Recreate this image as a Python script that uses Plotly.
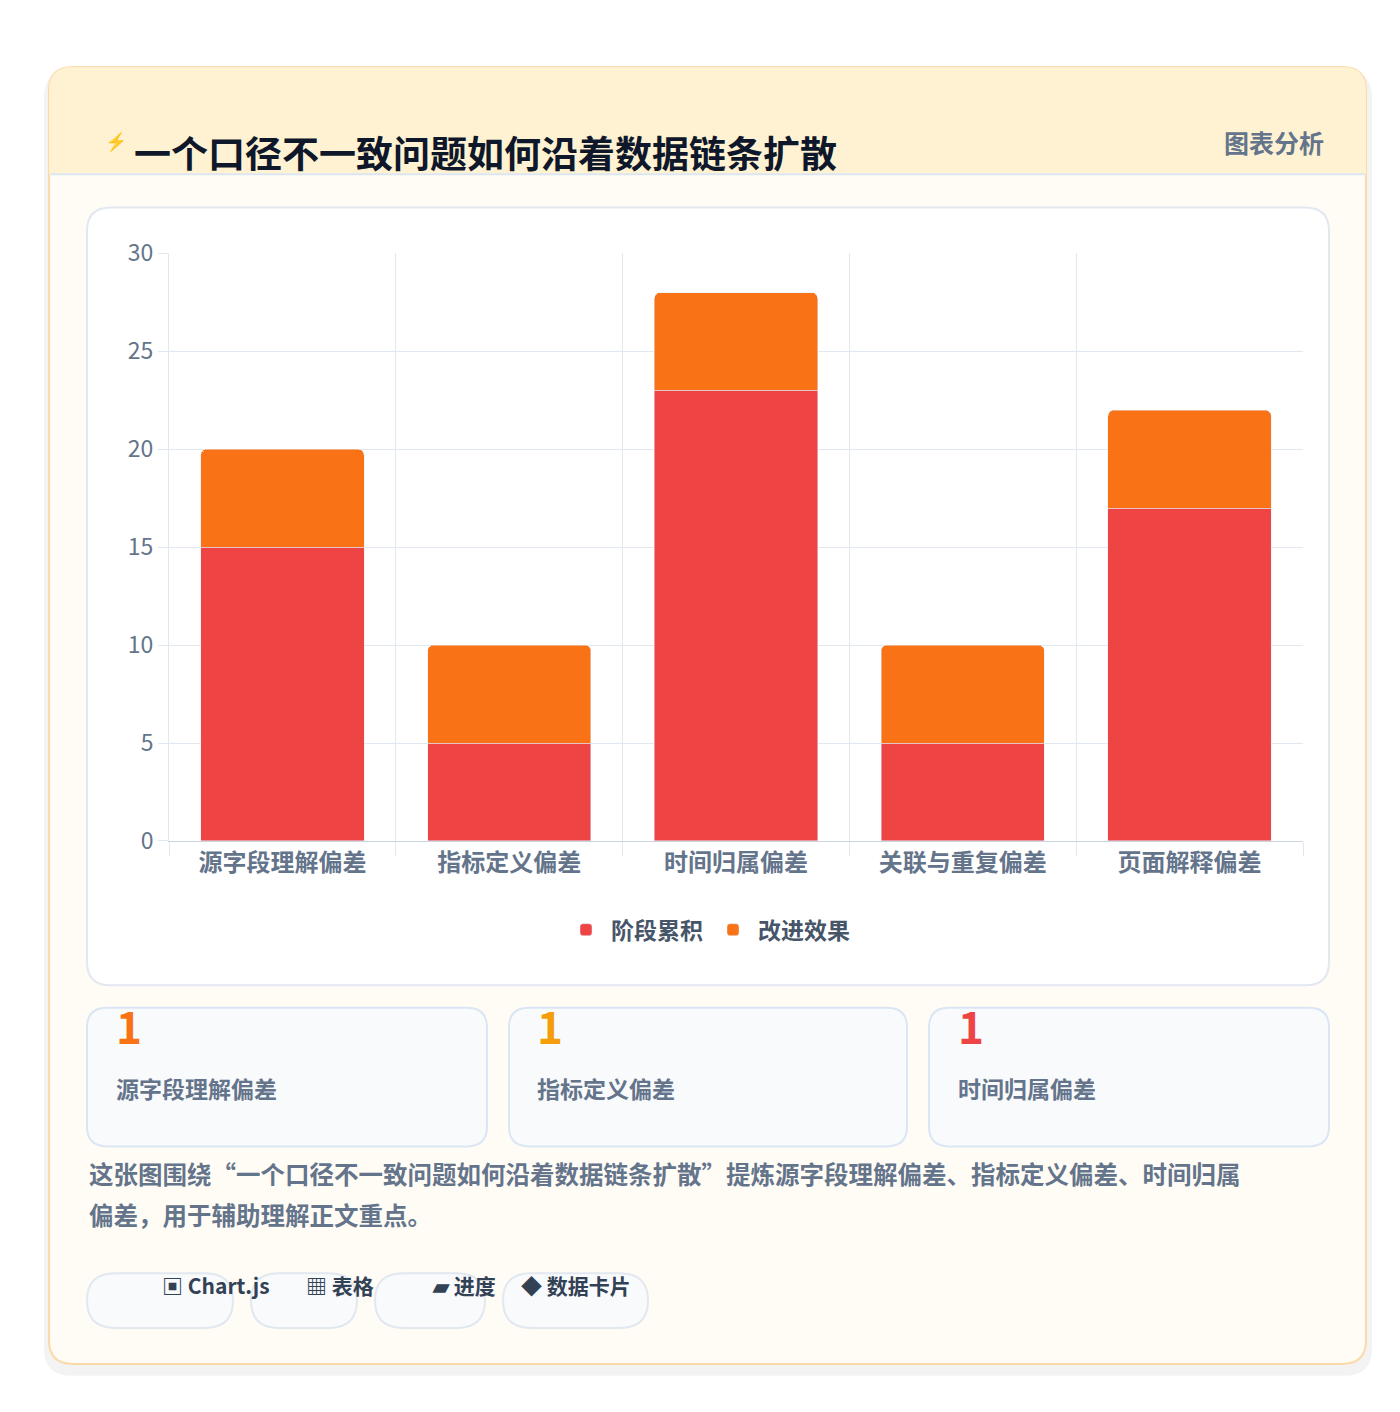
import plotly.graph_objects as go

categories = ["源字段理解偏差", "指标定义偏差", "时间归属偏差", "关联与重复偏差", "页面解释偏差"]
stage_values = [15, 5, 23, 5, 17]
improve_values = [5, 5, 5, 5, 5]
series_names = ["阶段累积", "改进效果"]
card_values = ["1", "1", "1"]
card_labels = ["源字段理解偏差", "指标定义偏差", "时间归属偏差"]
chips = ["▣ Chart.js", "▦ 表格", "▰ 进度", "◆ 数据卡片"]

W, H = 1400, 1412
FONT = "Noto Sans CJK SC, Noto Sans, sans-serif"

def px(x): return x / W
def py(y): return 1 - y / H

def rrect(x0, y0, x1, y1, r, fill, line=None, lw=1.5):
    X0, X1 = px(x0), px(x1)
    Y0, Y1 = py(y0), py(y1)
    rx, ry = r / W, r / H
    p = (f"M{X0+rx},{Y0} L{X1-rx},{Y0} Q{X1},{Y0} {X1},{Y0-ry} "
         f"L{X1},{Y1+ry} Q{X1},{Y1} {X1-rx},{Y1} L{X0+rx},{Y1} "
         f"Q{X0},{Y1} {X0},{Y1+ry} L{X0},{Y0-ry} Q{X0},{Y0} {X0+rx},{Y0} Z")
    return dict(type="path", path=p, xref="paper", yref="paper", fillcolor=fill,
                line=dict(color=line or fill, width=lw if line else 0), layer="below")

fig = go.Figure()
fig.add_bar(x=categories, y=stage_values, name=series_names[0], marker_color="#ef4444")
fig.add_bar(x=categories, y=improve_values, name=series_names[1], marker_color="#f97316")

shapes = []
# shadow-ish
shapes.append(rrect(36, 44, 1364, 1382, 28, "#f3f3f3"))
shapes.append(rrect(41, 41, 1358, 1370, 24, "#fffcf6", "#fbd9a9", 2))
# header
hp = (f"M{px(41)},{py(151)} L{px(41)},{py(65)} Q{px(41)},{py(41)} {px(65)},{py(41)} "
      f"L{px(1334)},{py(41)} Q{px(1358)},{py(41)} {px(1358)},{py(65)} L{px(1358)},{py(151)} Z")
shapes.append(dict(type="path", path=hp, xref="paper", yref="paper", fillcolor="#fef2d3",
                   line=dict(width=0), layer="below"))
shapes.append(dict(type="line", xref="paper", yref="paper", x0=px(42), x1=px(1357), y0=py(151), y1=py(151),
                   line=dict(color="#dbe6f0", width=2), layer="below"))
# chart panel
shapes.append(rrect(79, 185, 1321, 982, 24, "#ffffff", "#e2e8f0", 2))
# cards
for x0, x1 in [(79, 479), (501, 899), (921, 1321)]:
    shapes.append(rrect(x0, 1005, x1, 1147, 20, "#f8fafc", "#dbe6f5", 2))
# chips
chip_x = [(79, 225), (243, 349), (367, 477), (495, 640)]
for x0, x1 in chip_x:
    shapes.append(rrect(x0, 1277, x1, 1333, 28, "#f8fafc", "#e2e8f0", 2))

ann = []
ann.append(dict(text="⚡", x=px(95), y=py(100), font=dict(size=18, color="#3b63e6", family=FONT), showarrow=False))
ann.append(dict(text="<b>一个口径不一致问题如何沿着数据链条扩散</b>", x=px(124), y=py(98), xanchor="left",
                font=dict(size=37, color="#0f172a", family=FONT), showarrow=False))
ann.append(dict(text="<b>图表分析</b>", x=px(1318), y=py(97), xanchor="right",
                font=dict(size=25, color="#64748b", family=FONT), showarrow=False))
colors = ["#f97316", "#f59e0b", "#ef4444"]
for i, x0 in enumerate([106, 527, 948]):
    ann.append(dict(text=f"<b>{card_values[i]}</b>", x=px(x0), y=py(1057), xanchor="left",
                    font=dict(size=44, color=colors[i], family=FONT), showarrow=False))
    ann.append(dict(text=f"<b>{card_labels[i]}</b>", x=px(x0), y=py(1107), xanchor="left",
                    font=dict(size=23, color="#64748b", family=FONT), showarrow=False))
ann.append(dict(text="<b>这张图围绕“一个口径不一致问题如何沿着数据链条扩散”提炼源字段理解偏差、指标定义偏差、时间归属</b>",
                x=px(79), y=py(1195), xanchor="left", font=dict(size=24.5, color="#64748b", family=FONT), showarrow=False))
ann.append(dict(text="<b>偏差，用于辅助理解正文重点。</b>",
                x=px(79), y=py(1237), xanchor="left", font=dict(size=24.5, color="#64748b", family=FONT), showarrow=False))
for (x0, x1), t in zip(chip_x, chips):
    ann.append(dict(text=f"<b>{t}</b>", x=px((x0 + x1) / 2), y=py(1306),
                    font=dict(size=21, color="#334155", family=FONT), showarrow=False))
for a in ann:
    a.setdefault("xref", "paper"); a.setdefault("yref", "paper")

fig.update_layout(
    width=W, height=H, margin=dict(l=0, r=0, t=0, b=0), paper_bgcolor="#ffffff", plot_bgcolor="#ffffff",
    barmode="stack", bargap=0.28, barcornerradius=6, shapes=shapes, annotations=ann,
    font=dict(family=FONT),
    xaxis=dict(domain=[px(161), px(1295)], showgrid=True, gridcolor="#e2e8f0", linecolor="#cbd5e1",
               tickfont=dict(size=24, color="#64748b", family=FONT), ticks="outside", ticklen=14,
               tickcolor="#e2e8f0", tickson="boundaries",
               tickvals=categories, ticktext=[f"<b>{c}</b>" for c in categories]),
    yaxis=dict(domain=[1 - 834 / H, 1 - 232 / H], range=[0, 30], dtick=5, gridcolor="#e2e8f0",
               showline=True, linecolor="#e2e8f0", ticks="outside", ticklen=10, tickcolor="#e2e8f0",
               tickfont=dict(size=23, color="#64748b", family=FONT), zeroline=False),
    legend=dict(orientation="h", x=0.5, xanchor="center", y=py(925), yanchor="middle",
                font=dict(size=23, color="#475569", family=FONT), itemwidth=40, traceorder="normal"),
)
fig.data[0].name = f"<b>{series_names[0]}</b>"
fig.data[1].name = f"<b>{series_names[1]}</b>"
fig.write_html("out.html")
